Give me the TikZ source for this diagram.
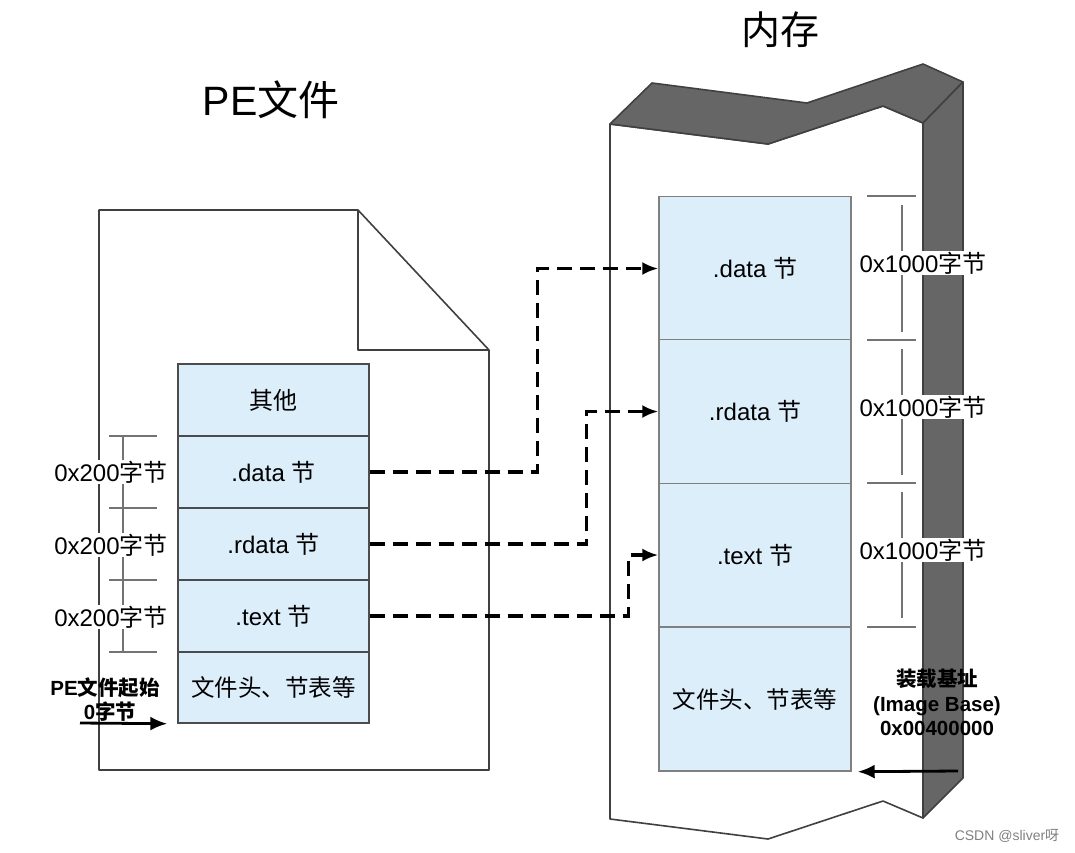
\documentclass[tikz,border=0pt]{standalone}
\usepackage{fontspec}
\setmainfont{Liberation Sans}
\newfontfamily\cjk{Noto Sans CJK SC}
\usetikzlibrary{arrows.meta}
\definecolor{secblue}{HTML}{DDEEFB}
\definecolor{darkface}{HTML}{666666}
\tikzset{
  outline/.style={draw=black!75, line width=1.6pt, line join=round},
  sec/.style={draw=black!70, fill=secblue, line width=1.4pt, minimum width=191pt, minimum height=72pt, inner sep=0pt, font=\fontsize{24}{26}\selectfont},
  msec/.style={sec, draw=black!50, minimum width=192pt, minimum height=143.5pt},
  dasharrow/.style={line width=3.4pt, dash pattern=on 15pt off 8pt, -{Latex[length=16pt,width=13pt]}},
  dimline/.style={draw=black!55, line width=1.3pt},
  dimlabel/.style={fill=white, inner sep=1pt, font=\fontsize{24}{26}\selectfont},
  solidarrow/.style={line width=2.8pt, -{Latex[length=17pt,width=14pt]}},
  boldlabel/.style={font=\bfseries\fontsize{20.5}{23}\selectfont, align=center, inner sep=0pt},
}
\begin{document}
\begin{tikzpicture}[x=1pt,y=-1pt]
\useasboundingbox (0,0) rectangle (1075,852);
% titles
\node[font=\fontsize{41}{44}\selectfont] (t1) at (271,100) {PE{\cjk 文件}};
\node[font=\cjk\fontsize{39}{42}\selectfont] (t2) at (780,30) {内存};
% PE file outline
\draw[outline, fill=white] (99,210) -- (358,210) -- (489,350) -- (489,770) -- (99,770) -- cycle;
\draw[outline] (358,210) -- (358,350) -- (489,350);
% memory block
\draw[outline, fill=white] (610,124) -- (768,144) -- (883,106) -- (923,123) -- (923,818) -- (883,801) -- (768,839) -- (610,819) -- cycle;
\draw[outline, fill=darkface] (610,124) -- (652,83) -- (807,103) -- (923,64) -- (963,82) -- (923,123) -- (883,106) -- (768,144) -- cycle;
\draw[outline, fill=darkface] (923,123) -- (963,82) -- (963,778) -- (923,818) -- cycle;
% left sections
\node[sec] (lother) at (273.5,400) {\cjk 其他};
\node[sec] (ldata) at (273.5,472) {.data {\cjk 节}};
\node[sec] (lrdata) at (273.5,544) {.rdata {\cjk 节}};
\node[sec] (ltext) at (273.5,616) {.text {\cjk 节}};
\node[sec, minimum height=71pt, font=\cjk\fontsize{23.5}{26}\selectfont] (lhdr) at (273.5,687.5) {文件头、节表等};
% memory sections
\node[msec] (mdata) at (755,268.5) {.data {\cjk 节}};
\node[msec] (mrdata) at (755,411.5) {.rdata {\cjk 节}};
\node[msec] (mtext) at (755,555) {.text {\cjk 节}};
\node[msec, minimum height=144pt, font=\cjk\fontsize{23.5}{26}\selectfont] (mhdr) at (755,699) {文件头、节表等};
% left dimension lines
\draw[dimline] (109,436) -- (157,436);
\draw[dimline] (109,508) -- (157,508);
\draw[dimline] (109,580) -- (157,580);
\draw[dimline] (109,652) -- (157,652);
\draw[dimline] (123,436) -- (123,652);
\node[dimlabel] (ld1) at (111,472) {0x200{\cjk 字节}};
\node[dimlabel] (ld2) at (111,545) {0x200{\cjk 字节}};
\node[dimlabel] (ld3) at (111,617) {0x200{\cjk 字节}};
% right dimension lines
\draw[dimline] (867,196) -- (916,196);
\draw[dimline] (867,340) -- (916,340);
\draw[dimline] (867,483) -- (916,483);
\draw[dimline] (867,627) -- (916,627);
\draw[dimline] (902,205) -- (902,332);
\draw[dimline] (902,349) -- (902,475);
\draw[dimline] (902,492) -- (902,618);
\node[dimlabel] (rd1) at (923,263) {0x1000{\cjk 字节}};
\node[dimlabel] (rd2) at (923,407) {0x1000{\cjk 字节}};
\node[dimlabel] (rd3) at (923,550) {0x1000{\cjk 字节}};
% dashed mapping arrows
\draw[dasharrow] (ldata.east) -- ++(168,0) |- (mdata.west);
\draw[dasharrow] (lrdata.east) -- ++(217,0) |- (mrdata.west);
\draw[dasharrow] (ltext.east) -- ++(259,0) |- (mtext.west);
% PE start label
\node[boldlabel] (pestart) at (105,688) {PE{\cjk 文件起始}};
\node[boldlabel] (pezero) at (110,712) {0{\cjk 字节}};
\coordinate (ps) at (80,723);
\draw[solidarrow] (ps) -- ([xshift=-10pt]lhdr.south west);
% image base label
\node[boldlabel] (ib1) at (937,679) {\cjk 装载基址};
\node[boldlabel] (ib2) at (937,706) {(Image Base)};
\node[boldlabel] (ib3) at (937,728) {0x00400000};
\coordinate (ibs) at (958,771);
\draw[solidarrow] (ibs) -- ([xshift=6pt]mhdr.south east);
% watermark
\node[text=black!50, font=\fontsize{14}{16}\selectfont] (wm) at (1007,836) {CSDN @sliver{\cjk 呀}};
\end{tikzpicture}
\end{document}
